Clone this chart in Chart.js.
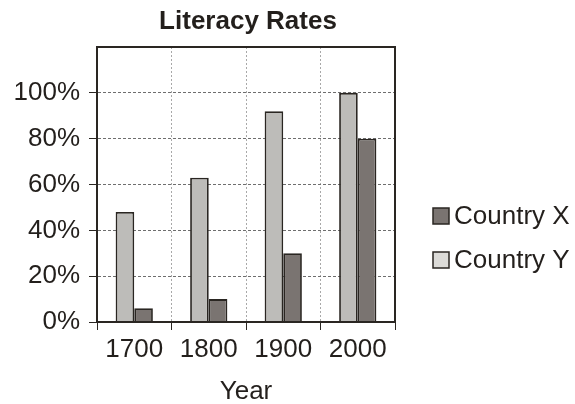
<!DOCTYPE html>
<html>
<head>
<meta charset="utf-8">
<script src="https://cdn.jsdelivr.net/npm/chart.js@4"></script>
<style>
html,body{margin:0;padding:0;background:#fff;}
#wrap{width:575px;height:404px;position:relative;}
</style>
</head>
<body>
<div id="wrap"><canvas id="c" width="575" height="404"></canvas></div>
<script>
const categories = ["1700", "1800", "1900", "2000"];
const countryY = [48, 63, 92, 100];
const countryX = [6, 10, 30, 80];
const yTicks = [0, 20, 40, 60, 80, 100];
const seriesNames = ["Country X", "Country Y"];
const chartTitle = "Literacy Rates";
const xTitle = "Year";

const FONT = "'Liberation Sans', Arial, Helvetica, sans-serif";
const TEXT = "#231f1c";
const LIGHT = "#bdbcb9";
const DARK = "#7a7471";
const EDGE = "#2a2622";

const overlay = {
  id: "overlay",
  afterDatasetsDraw(chart) {
    const ctx = chart.ctx, a = chart.chartArea;
    ctx.save();
    ctx.strokeStyle = EDGE;
    ctx.lineWidth = 2;
    ctx.setLineDash([]);
    ctx.strokeRect(a.left, a.top, a.right - a.left, a.bottom - a.top);
    ctx.restore();
  },
  afterDraw(chart) {
    const ctx = chart.ctx;
    ctx.save();
    ctx.fillStyle = TEXT;
    ctx.font = "bold 26px " + FONT;
    ctx.textAlign = "center";
    ctx.textBaseline = "middle";
    ctx.fillText(chartTitle, 248, 22);
    // legend
    const items = [
      { label: seriesNames[0], color: DARK, y: 216 },
      { label: seriesNames[1], color: "#dcdbd8", y: 260 }
    ];
    ctx.font = "26px " + FONT;
    ctx.textAlign = "left";
    items.forEach(it => {
      ctx.fillStyle = it.color;
      ctx.fillRect(433, it.y - 8, 16, 16);
      ctx.strokeStyle = EDGE;
      ctx.lineWidth = 1.5;
      ctx.strokeRect(433, it.y - 8, 16, 16);
      ctx.fillStyle = TEXT;
      ctx.fillText(it.label, 454, it.y + 1);
    });
    ctx.restore();
  }
};

new Chart(document.getElementById("c"), {
  type: "bar",
  data: {
    labels: categories,
    datasets: [
      { label: seriesNames[1], data: countryY, backgroundColor: LIGHT, borderColor: EDGE, borderWidth: 1.8, barPercentage: 1.0, categoryPercentage: 0.5 },
      { label: seriesNames[0], data: countryX, backgroundColor: DARK, borderColor: EDGE, borderWidth: 1.8, barPercentage: 1.0, categoryPercentage: 0.5 }
    ]
  },
  options: {
    responsive: false,
    animation: false,
    devicePixelRatio: 1,
    layout: { padding: { top: 47, right: 180, left: 0, bottom: 0 } },
    plugins: { legend: { display: false }, title: { display: false }, tooltip: { enabled: false } },
    scales: {
      x: {
        grid: { offset: true, color: "#a8a8a8", lineWidth: 1, tickLength: 8, tickColor: EDGE, drawOnChartArea: true },
        border: { display: true, color: EDGE, width: 2, dash: [2, 2] },
        ticks: { color: TEXT, font: { family: FONT, size: 26 }, padding: 4 },
        title: { display: true, text: xTitle, color: TEXT, font: { family: FONT, size: 26 }, padding: { top: 0, bottom: -3 } },
        afterFit(s) { s.height = 82; }
      },
      y: {
        min: 0, max: 120,
        grid: {
          color: "#6e6e6e", lineWidth: 1, tickLength: 8,
          tickColor: c => (c.tick && c.tick.value === 120 ? "rgba(0,0,0,0)" : EDGE)
        },
        border: { display: true, color: EDGE, width: 2, dash: [3, 2] },
        afterBuildTicks(s) { s.ticks = yTicks.concat([120]).map(v => ({ value: v })); },
        ticks: {
          color: TEXT, font: { family: FONT, size: 26 }, padding: 9,
          callback: v => (yTicks.includes(v) ? v + "%" : "")
        },
        afterFit(s) { s.width = 97; }
      }
    }
  },
  plugins: [overlay]
});
</script>
</body>
</html>
